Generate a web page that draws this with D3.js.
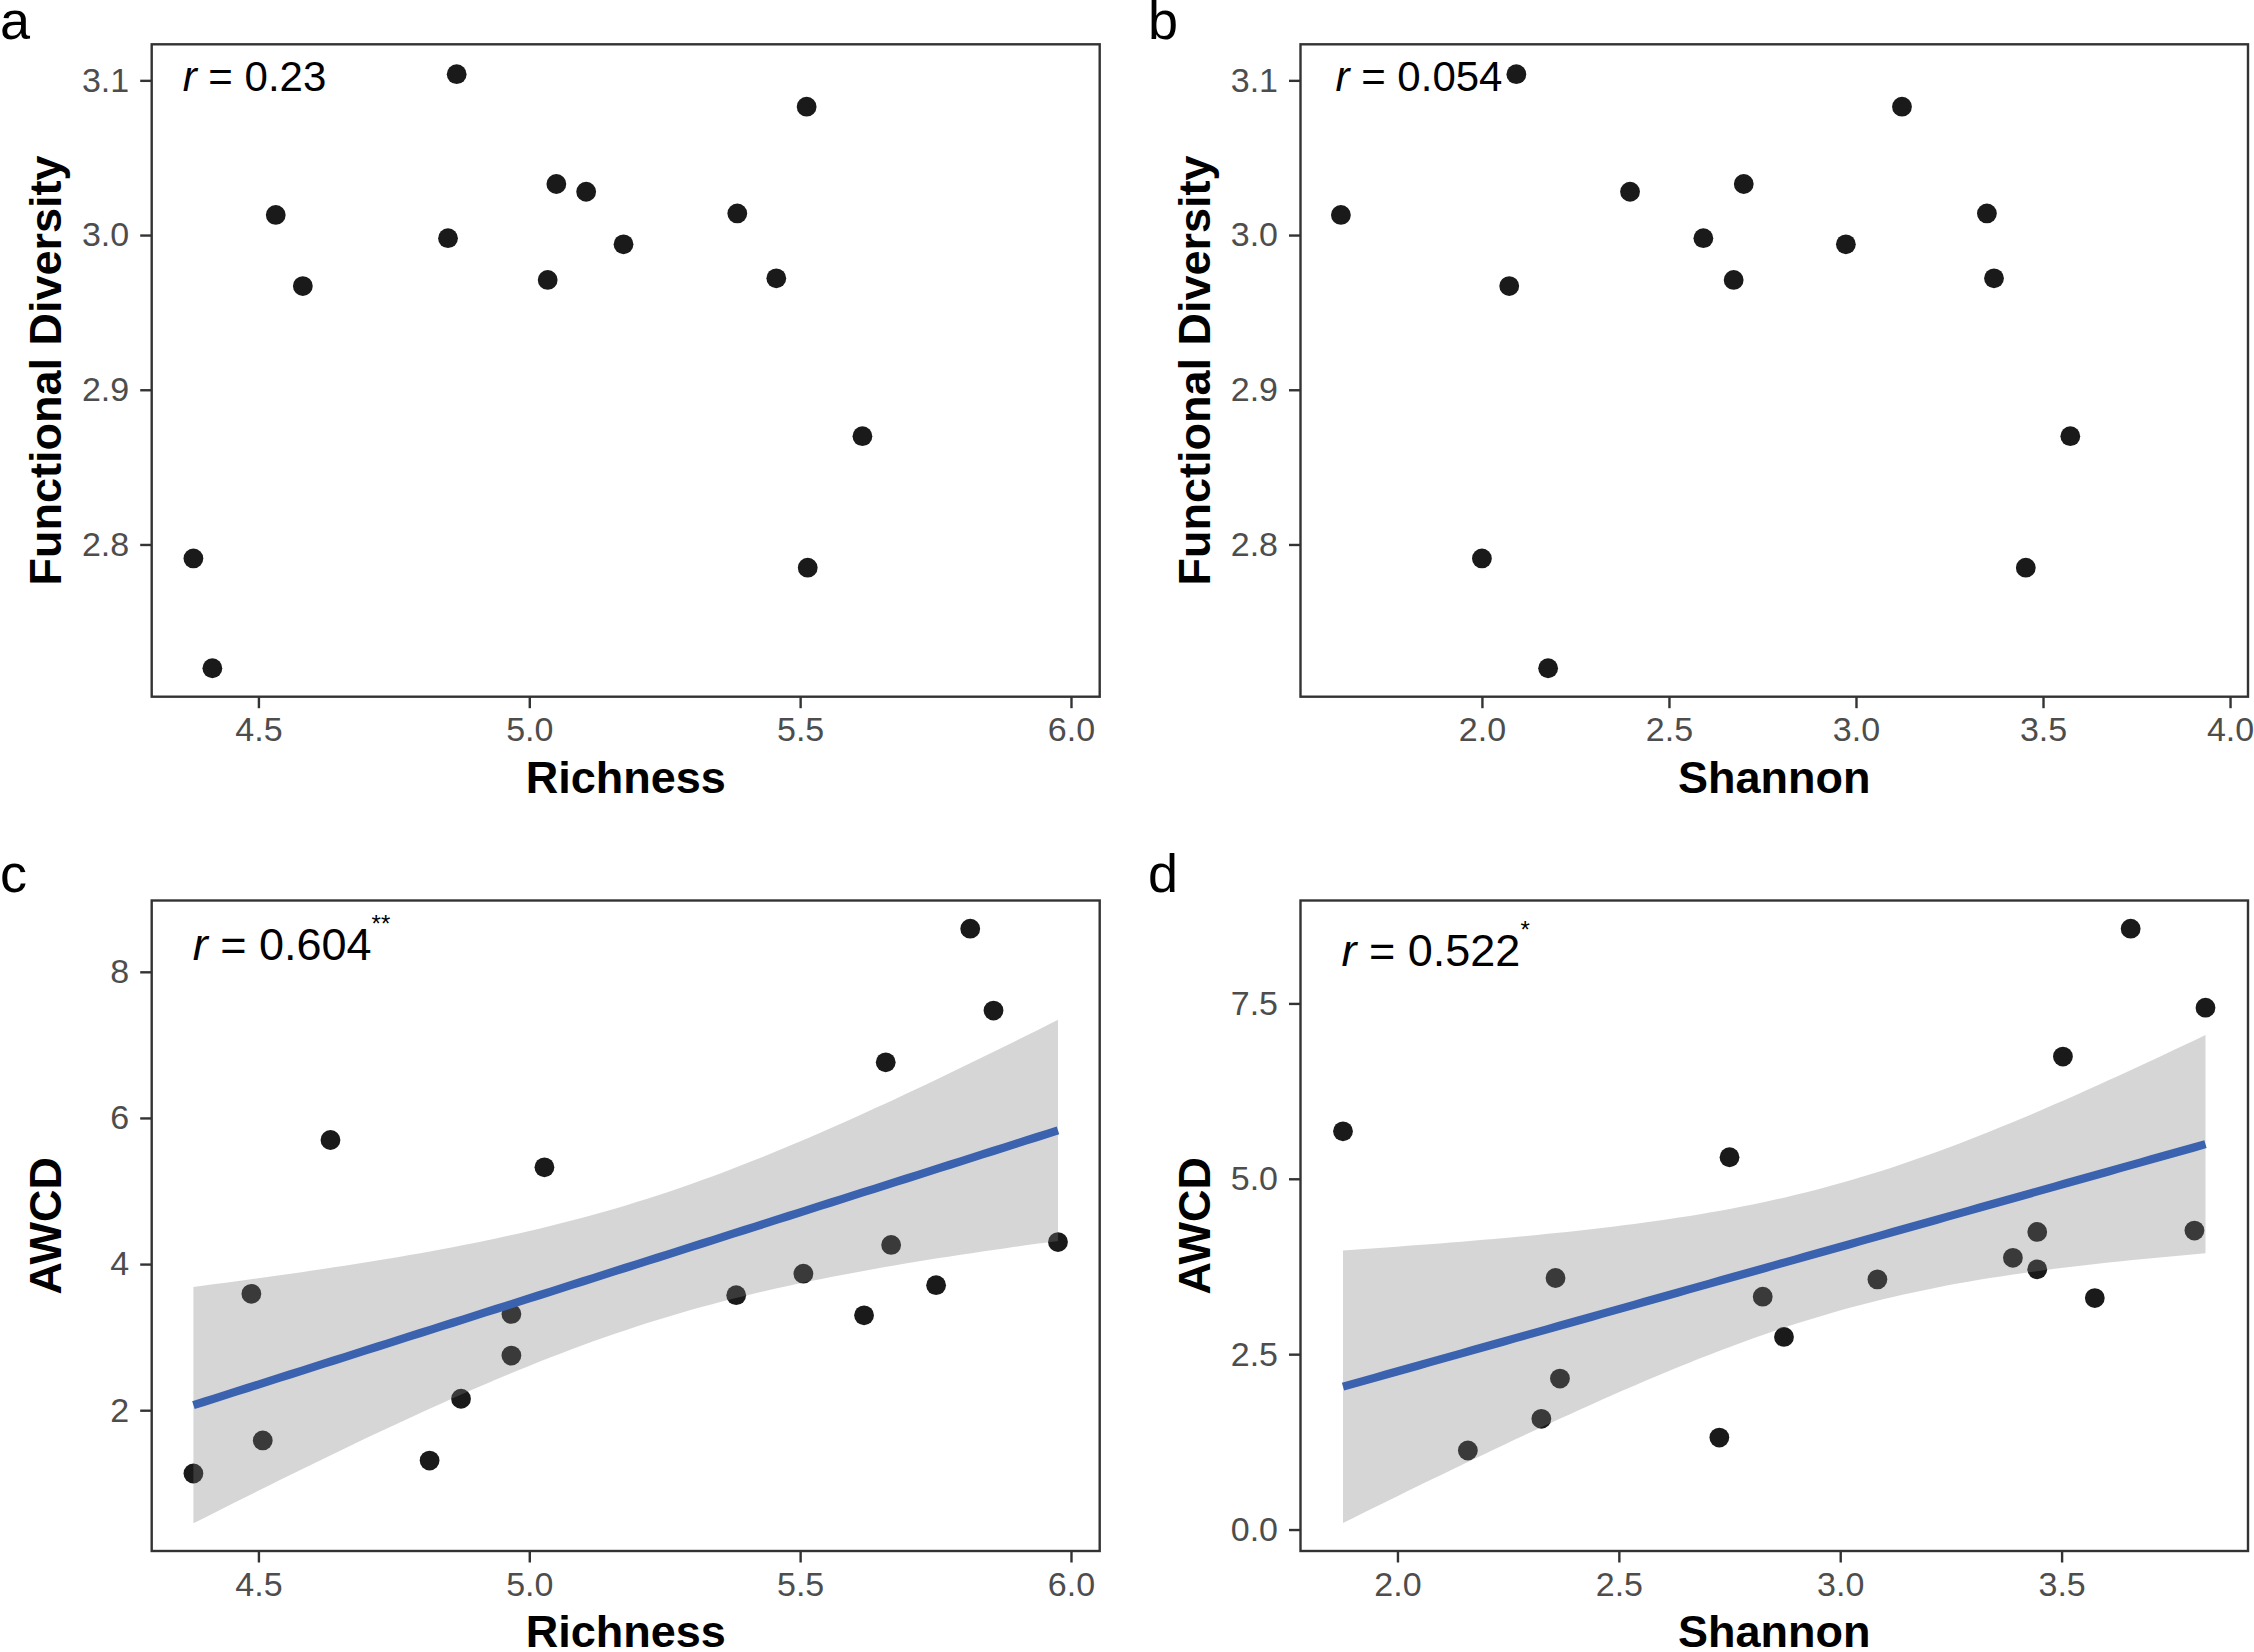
<!DOCTYPE html>
<html>
<head>
<meta charset="utf-8">
<script src="https://cdn.jsdelivr.net/npm/d3@7"></script>
<style>
  html, body { margin: 0; padding: 0; background: #ffffff; }
  svg { display: block; }
  text { font-family: "Liberation Sans", Arial, Helvetica, sans-serif; }
</style>
</head>
<body>
<svg id="chart" width="2254" height="1652"></svg>
<script>
// ---------------- DATA ----------------
// Panel a: Richness vs Functional Diversity
const richnessA = [4.380, 4.415, 4.532, 4.582, 4.850, 4.866, 5.034, 5.050, 5.105, 5.174, 5.384, 5.456, 5.512, 5.514, 5.615];
const fdA       = [2.791, 2.720, 3.013, 2.967, 2.998, 3.104, 2.971, 3.033, 3.028, 2.994, 3.014, 2.972, 3.083, 2.785, 2.870];

// Panel b: Shannon vs Functional Diversity
const shannonB = [1.623, 2.000, 2.073, 2.092, 2.177, 2.396, 2.592, 2.673, 2.700, 2.973, 3.123, 3.350, 3.369, 3.454, 3.573];
const fdB      = [3.013, 2.791, 2.967, 3.104, 2.720, 3.028, 2.998, 2.971, 3.033, 2.994, 3.083, 3.014, 2.972, 2.785, 2.870];

// Panel c: Richness vs AWCD
const richnessC = [4.380, 4.487, 4.508, 4.633, 4.816, 4.874, 4.967, 4.967, 5.028, 5.382, 5.506, 5.618, 5.658, 5.668, 5.751, 5.814, 5.857, 5.976];
const awcdC     = [1.134, 3.593, 1.587, 5.698, 1.311, 2.157, 3.318, 2.747, 5.324, 3.574, 3.869, 3.298, 6.761, 4.262, 3.711, 8.590, 7.469, 4.301];

// Panel d: Shannon vs AWCD
const shannonD = [1.877, 2.159, 2.325, 2.357, 2.367, 2.727, 2.750, 2.825, 2.873, 3.084, 3.390, 3.445, 3.445, 3.503, 3.575, 3.656, 3.800, 3.825];
const awcdD    = [5.676, 1.127, 1.578, 3.586, 2.152, 1.311, 5.307, 3.320, 2.746, 3.566, 3.873, 4.242, 3.709, 6.742, 3.299, 8.566, 4.262, 7.439];

// Tick values
const ticksRichness = [4.5, 5.0, 5.5, 6.0];
const ticksShannonB = [2.0, 2.5, 3.0, 3.5, 4.0];
const ticksShannonD = [2.0, 2.5, 3.0, 3.5];
const ticksFD       = [2.8, 2.9, 3.0, 3.1];
const ticksAwcdC    = [2, 4, 6, 8];
const ticksAwcdD    = [0.0, 2.5, 5.0, 7.5];

// Annotations
const panelLetters = ["a", "b", "c", "d"];
const rValues = ["0.23", "0.054", "0.604", "0.522"];
const rStars  = ["", "", "**", "*"];
const xTitles = ["Richness", "Shannon", "Richness", "Shannon"];
const yTitles = ["Functional Diversity", "Functional Diversity", "AWCD", "AWCD"];

// t quantile (0.975, df = 16) for 95% confidence band of the linear fit
const T_975_DF16 = 2.1199;

// ---------------- LAYOUT ----------------
const svg = d3.select("#chart");
svg.append("rect").attr("width", 2254).attr("height", 1652).attr("fill", "#ffffff");

const colL = [151.7, 1099.7], colR = [1300.5, 2248];
const rowT = [44.3, 696.7], rowB = [900.5, 1551];

const panels = [
  { x: richnessA, y: fdA, xr: colL, yr: rowT, xd: [4.303, 6.053], yd: [2.7016, 3.1233],
    xt: ticksRichness, yt: ticksFD, xf: d3.format(".1f"), yf: d3.format(".1f"), fit: false,
    rx: 31, ry: 47, rs: 42 },
  { x: shannonB, y: fdB, xr: colR, yr: rowT, xd: [1.515, 4.048], yd: [2.7016, 3.1233],
    xt: ticksShannonB, yt: ticksFD, xf: d3.format(".1f"), yf: d3.format(".1f"), fit: false,
    rx: 35, ry: 47, rs: 42 },
  { x: richnessC, y: awcdC, xr: colL, yr: rowB, xd: [4.303, 6.053], yd: [0.073, 8.976],
    xt: ticksRichness, yt: ticksAwcdC, xf: d3.format(".1f"), yf: d3.format("d"), fit: true,
    rx: 41, ry: 59, rs: 45 },
  { x: shannonD, y: awcdD, xr: colR, yr: rowB, xd: [1.781, 3.921], yd: [-0.306, 8.967],
    xt: ticksShannonD, yt: ticksAwcdD, xf: d3.format(".1f"), yf: d3.format(".1f"), fit: true,
    rx: 41, ry: 65, rs: 45 }
];

function linearFit(xs, ys) {
  const n = xs.length;
  const mx = d3.mean(xs), my = d3.mean(ys);
  let sxx = 0, sxy = 0;
  for (let i = 0; i < n; i++) { sxx += (xs[i] - mx) ** 2; sxy += (xs[i] - mx) * (ys[i] - my); }
  const b = sxy / sxx, a = my - b * mx;
  let sse = 0;
  for (let i = 0; i < n; i++) sse += (ys[i] - (a + b * xs[i])) ** 2;
  const s = Math.sqrt(sse / (n - 2));
  const [x0, x1] = d3.extent(xs);
  const pts = d3.range(0, 81).map(k => {
    const x = x0 + (x1 - x0) * k / 80;
    const yhat = a + b * x;
    const se = s * Math.sqrt(1 / n + (x - mx) ** 2 / sxx);
    return { x, y: yhat, lo: yhat - T_975_DF16 * se, hi: yhat + T_975_DF16 * se };
  });
  return pts;
}

const axisColor = "#333333";
const tickTextColor = "#4d4d4d";

panels.forEach((p, i) => {
  const xs = d3.scaleLinear().domain(p.xd).range(p.xr);
  const ys = d3.scaleLinear().domain(p.yd).range([p.yr[1], p.yr[0]]);
  const g = svg.append("g");

  // points
  const data = p.x.map((v, k) => ({ x: v, y: p.y[k] }));
  g.append("g").selectAll("circle").data(data).join("circle")
    .attr("cx", d => xs(d.x)).attr("cy", d => ys(d.y)).attr("r", 9.9)
    .attr("fill", "#1a1a1a");

  // regression + confidence band (drawn over points like geom_smooth)
  if (p.fit) {
    const pts = linearFit(p.x, p.y);
    g.append("path").datum(pts)
      .attr("d", d3.area().x(d => xs(d.x)).y0(d => ys(d.lo)).y1(d => ys(d.hi)))
      .attr("fill", "#808080").attr("fill-opacity", 0.32);
    g.append("path").datum(pts)
      .attr("d", d3.line().x(d => xs(d.x)).y(d => ys(d.y)))
      .attr("fill", "none").attr("stroke", "#3b62ae").attr("stroke-width", 8.2);
  }

  // axes
  const xAxis = d3.axisBottom(xs).tickValues(p.xt).tickFormat(p.xf).tickSize(11.5).tickPadding(9);
  const yAxis = d3.axisLeft(ys).tickValues(p.yt).tickFormat(p.yf).tickSize(11.5).tickPadding(11);
  const gx = g.append("g").attr("transform", `translate(0,${p.yr[1]})`).call(xAxis);
  const gy = g.append("g").attr("transform", `translate(${p.xr[0]},0)`).call(yAxis);
  [gx, gy].forEach(a => {
    a.select(".domain").remove();
    a.selectAll(".tick line").attr("stroke", axisColor).attr("stroke-width", 2.4);
    a.selectAll(".tick text").attr("fill", tickTextColor)
      .style("font-size", "34px").style("font-family", "'Liberation Sans', Arial, sans-serif");
  });

  // panel border
  g.append("rect")
    .attr("x", p.xr[0]).attr("y", p.yr[0])
    .attr("width", p.xr[1] - p.xr[0]).attr("height", p.yr[1] - p.yr[0])
    .attr("fill", "none").attr("stroke", axisColor).attr("stroke-width", 2.4);

  // r annotation
  const rt = g.append("text")
    .attr("x", p.xr[0] + p.rx).attr("y", p.yr[0] + p.ry)
    .attr("fill", "#000000").style("font-size", p.rs + "px");
  rt.append("tspan").style("font-style", "italic").text("r");
  rt.append("tspan").text(" = " + rValues[i]);
  if (rStars[i]) {
    rt.append("tspan").attr("dy", -p.rs * 0.62).style("font-size", "24px").text(rStars[i]);
  }

  // axis titles
  g.append("text")
    .attr("x", (p.xr[0] + p.xr[1]) / 2).attr("y", p.yr[1] + 96)
    .attr("text-anchor", "middle").attr("fill", "#000000")
    .style("font-size", "45px").style("font-weight", "bold")
    .text(xTitles[i]);
  g.append("text")
    .attr("transform", `translate(${p.xr[0] - 91},${(p.yr[0] + p.yr[1]) / 2}) rotate(-90)`)
    .attr("text-anchor", "middle").attr("fill", "#000000")
    .style("font-size", "45px").style("font-weight", "bold")
    .text(yTitles[i]);

  // panel letter
  g.append("text")
    .attr("x", p.xr[0] === colL[0] ? 0 : 1148)
    .attr("y", p.yr[0] === rowT[0] ? 39 : 892)
    .attr("fill", "#000000").style("font-size", "54px")
    .text(panelLetters[i]);
});
</script>
</body>
</html>
